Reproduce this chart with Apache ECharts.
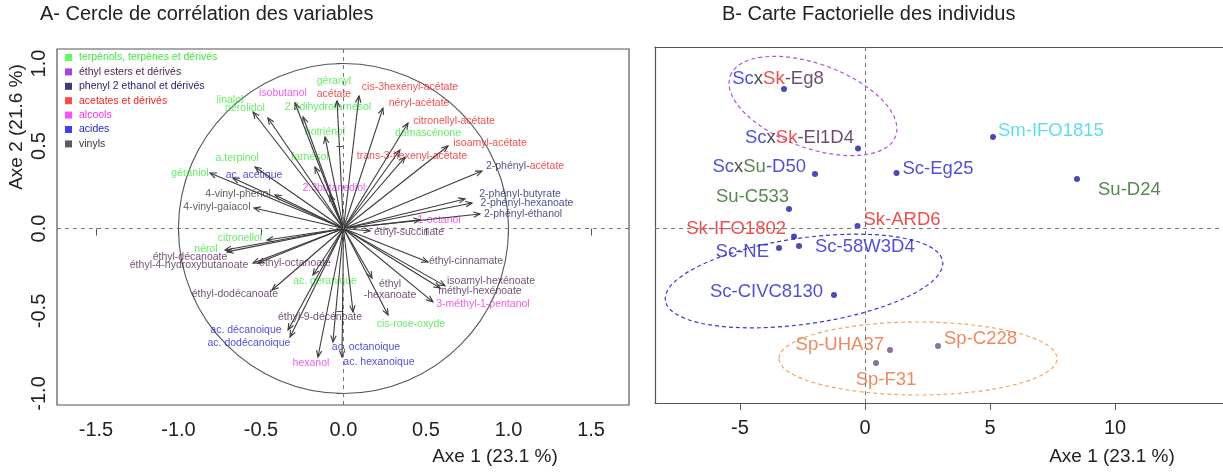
<!DOCTYPE html>
<html>
<head>
<meta charset="utf-8">
<script src="https://cdn.jsdelivr.net/npm/echarts@6.0.0/dist/echarts.min.js"></script>
<style>
html, body { margin: 0; padding: 0; background: #fff; }
#main { width: 1223px; height: 475px; }
</style>
</head>
<body>
<div id="main"></div>
<script>
var FONT = '"Liberation Sans", Arial, Helvetica, sans-serif';

// ---- A : cercle de corrélation ----
// groupes de variables (légende)
var groupNames = ['terpénols, terpènes et dérivés', 'éthyl esters et dérivés', 'phenyl 2 ethanol et dérivés',
    'acetates et dérivés', 'alcools', 'acides', 'vinyls'];

// variables : nom, groupe, extrémité de la flèche, position du libellé
var varNames = ['géraniol', 'a.terpinol', 'linalol', 'nérolidol', '2.3dihydrofarnésol', 'hotriénol', 'farnésol',
    'damascénone', 'citronellol', 'nérol', 'ac. géranique', 'cis-rose-oxyde',
    'éthyl-succinate', 'éthyl-cinnamate', 'isoamyl-hexénoate', 'méthyl-hexénoate', 'éthyl\n-hexanoate',
    'éthyl-9-décénoate', 'éthyl-dodécanoate', 'éthyl-octanoate', 'éthyl-4-hydroxybutanoate', 'éthyl-décanoate',
    '2-phényl-acétate', '2-phényl-butyrate', '2-phényl-hexanoate', '2-phényl-éthanol',
    'géranyl acétate', 'cis-3hexényl-acétate', 'néryl-acétate', 'citronellyl-acétate', 'isoamyl-acétate',
    'trans-3-hexenyl-acétate',
    'isobutanol', '2.3butanediol', '1-octanol', '3-méthyl-1-pentanol', 'hexanol',
    'ac. acétique', 'ac. décanoique', 'ac. dodécanoique', 'ac. octanoique', 'ac. hexanoique',
    '4-vinyl-phénol', '4-vinyl-gaiacol'];
var varGroup = [0, 0, 0, 0, 0, 0, 0, 0, 0, 0, 0, 0,
    1, 1, 1, 1, 1, 1, 1, 1, 1, 1,
    2, 2, 2, 2,
    3, 3, 3, 3, 3, 3,
    4, 4, 4, 4, 4,
    5, 5, 5, 5, 5,
    6, 6];
var varX = [-0.809, -0.536, -0.548, -0.458, -0.245, -0.112, -0.173, 0.342, -0.464, -0.718, -0.185, 0.270,
    0.161, 0.512, 0.615, 0.585, 0.173, 0.058, -0.433, -0.518, -0.548, -0.706,
    0.839, 0.736, 0.779, 0.827,
    -0.039, 0.094, 0.239, 0.391, 0.633, 0.373,
    -0.294, -0.082, 0.464, 0.542, -0.155,
    -0.670, -0.336, -0.324, -0.064, -0.009,
    -0.415, -0.542];
var varY = [0.336, 0.373, 0.706, 0.670, 0.676, 0.555, 0.373, 0.476, -0.070, -0.130, -0.282, -0.524,
    -0.015, -0.203, -0.348, -0.361, -0.300, -0.506, -0.373, -0.209, -0.209, -0.142,
    0.348, 0.179, 0.155, 0.088,
    0.773, 0.803, 0.730, 0.639, 0.500, 0.433,
    0.761, 0.203, 0.052, -0.445, -0.779,
    0.306, -0.615, -0.658, -0.688, -0.779,
    0.203, 0.124];
var labX = [-0.930, -0.645, -0.688, -0.597, -0.094, -0.112, -0.203, 0.512, -0.627, -0.833, -0.112, 0.409,
    0.397, 0.742, 0.894, 0.827, 0.282, -0.142, -0.658, -0.294, -0.936, -0.930,
    1.100, 1.070, 1.112, 1.088,
    -0.058, 0.403, 0.458, 0.670, 0.888, 0.415,
    -0.367, -0.058, 0.579, 0.845, -0.197,
    -0.542, -0.591, -0.573, 0.136, 0.215,
    -0.639, -0.767];
var labY = [0.336, 0.427, 0.779, 0.730, 0.736, 0.585, 0.433, 0.579, -0.058, -0.124, -0.318, -0.579,
    -0.021, -0.197, -0.318, -0.379, -0.373, -0.536, -0.397, -0.209, -0.221, -0.173,
    0.379, 0.209, 0.155, 0.088,
    0.852, 0.858, 0.761, 0.652, 0.518, 0.439,
    0.821, 0.245, 0.052, -0.458, -0.815,
    0.324, -0.615, -0.694, -0.718, -0.809,
    0.209, 0.130];

var xTicksA = [-1.5, -1.0, -0.5, 0, 0.5, 1.0, 1.5];
var yTicksA = [-1.0, -0.5, 0, 0.5, 1.0];

// ---- B : carte factorielle ----
var indNames = ['ScxSk-Eg8', 'ScxSk-El1D4', 'Sm-IFO1815', 'ScxSu-D50', 'Sc-Eg25', 'Su-D24', 'Su-C533',
    'Sk-IFO1802', 'Sk-ARD6', 'Sc-NE', 'Sc-58W3D4', 'Sc-CIVC8130', 'Sp-UHA37', 'Sp-C228', 'Sp-F31'];
var indX = [-3.24, -0.28, 5.12, -2.0, 1.26, 8.48, -3.04, -2.84, -0.30, -3.44, -2.64, -1.24, 1.0, 2.92, 0.44];
var indY = [5.56, 3.18, 3.64, 2.16, 2.2, 1.96, 0.76, -0.34, 0.08, -0.8, -0.72, -2.68, -4.88, -4.72, -5.4];

// ellipses de regroupement : centre, demi-axes, angle (degrés)
var ellCx = [-2.08, -2.44, 2.12];
var ellCy = [4.88, -2.12, -5.22];
var ellA = [3.52, 5.6, 5.56];
var ellB = [1.68, 1.72, 1.46];
var ellAngle = [-20, 8, 0];

var xTicksB = [-5, 0, 5, 10];

// ---- styles ----
var groupSquare = ['#33ff33', '#9a10d0', '#0a0a5a', '#ff1a1a', '#ff22ff', '#1010ee', '#333333'];
var groupText = ['#3fe83f', '#4a1f4f', '#1e1e66', '#ee2222', '#ee33ee', '#2222cc', '#333333'];
var ellColor = ['#b450d8', '#3a3ad0', '#f0a860'];

// libellés en plusieurs couleurs
var varRich = {
    'géranyl acétate': '{g|géranyl}\n{r|acétate}',
    '2-phényl-acétate': '{n|2-phényl-}{r|acétate}'
};
var indLabel = {
    'ScxSk-Eg8': { pos: 'top', off: [-6, 7], rich: '{b|Sc}{k|x}{r|Sk}{p|-Eg8}' },
    'ScxSk-El1D4': { pos: 'left', off: [4, -11], rich: '{b|Sc}{k|x}{r|Sk}{p|-El1D4}' },
    'Sm-IFO1815': { pos: 'right', off: [-3, -6], rich: '{c|Sm-IFO1815}' },
    'ScxSu-D50': { pos: 'left', off: [-1, -7], rich: '{b|Sc}{k|x}{g|Su}{b|-D50}' },
    'Sc-Eg25': { pos: 'right', off: [-2, -4], rich: '{b|Sc-Eg25}' },
    'Su-D24': { pos: 'right', off: [13, 11], rich: '{g|Su-D24}' },
    'Su-C533': { pos: 'left', off: [8, -12], rich: '{g|Su-C533}' },
    'Sk-IFO1802': { pos: 'left', off: [0, -8], rich: '{r|Sk-IFO1802}' },
    'Sk-ARD6': { pos: 'right', off: [-2, -6], rich: '{r|Sk-ARD6}' },
    'Sc-NE': { pos: 'left', off: [-2, 4], rich: '{b|Sc-NE}' },
    'Sc-58W3D4': { pos: 'right', off: [8, 1], rich: '{b|Sc-58W3D4}' },
    'Sc-CIVC8130': { pos: 'left', off: [-3, -3], rich: '{b|Sc-CIVC8130}' },
    'Sp-UHA37': { pos: 'left', off: [2, -5], rich: '{o|Sp-UHA37}' },
    'Sp-C228': { pos: 'right', off: [-2, -7], rich: '{o|Sp-C228}' },
    'Sp-F31': { pos: 'bottom', off: [10, -1], rich: '{o|Sp-F31}' }
};
var richB = {
    b: { color: '#2424c8' }, k: { color: '#222222' }, r: { color: '#e82020' }, p: { color: '#4a1c4a' },
    g: { color: '#2d6a22' }, c: { color: '#35d6e6' }, o: { color: '#ea6a3a' }
};

// flèche : segment depuis l'origine + tête ouverte
function renderArrow(params, api) {
    var p0 = api.coord([0, 0]);
    var p1 = api.coord([api.value(0), api.value(1)]);
    var ang = Math.atan2(p1[1] - p0[1], p1[0] - p0[0]);
    var len = 7, spread = Math.PI / 8;
    var a1 = [p1[0] - len * Math.cos(ang - spread), p1[1] - len * Math.sin(ang - spread)];
    var a2 = [p1[0] - len * Math.cos(ang + spread), p1[1] - len * Math.sin(ang + spread)];
    return {
        type: 'group',
        children: [
            { type: 'line', shape: { x1: p0[0], y1: p0[1], x2: p1[0], y2: p1[1] },
              style: { stroke: '#3a3a3a', lineWidth: 1.1 } },
            { type: 'polyline', shape: { points: [a1, p1, a2] },
              style: { stroke: '#3a3a3a', lineWidth: 1.1, fill: null } }
        ]
    };
}

// cercle de rayon 1
function renderCircle(params, api) {
    var c = api.coord([0, 0]);
    var s = api.size([1, 1]);
    return {
        type: 'ellipse',
        shape: { cx: c[0], cy: c[1], rx: s[0], ry: s[1] },
        style: { fill: null, stroke: '#555', lineWidth: 1.1 }
    };
}

function renderEllipse(params, api) {
    var c = api.coord([api.value(0), api.value(1)]);
    var rx = api.size([api.value(2), 0])[0];
    var ry = api.size([0, api.value(3)])[1];
    return {
        type: 'ellipse',
        x: c[0], y: c[1],
        rotation: api.value(4) * Math.PI / 180,
        shape: { cx: 0, cy: 0, rx: rx, ry: ry },
        style: { fill: null, stroke: ellColor[params.dataIndex], lineWidth: 1.2, lineDash: [4, 3] }
    };
}

var zeroLines = {
    silent: true,
    symbol: ['none', 'none'],
    label: { show: false },
    lineStyle: { color: '#777', width: 1, type: [4, 4] },
    data: [{ xAxis: 0 }, { yAxis: 0 }]
};

var series = [];

series.push({
    type: 'custom', name: 'cercle', xAxisIndex: 0, yAxisIndex: 0, silent: true,
    renderItem: renderCircle, data: [[0, 0]], markLine: zeroLines, z: 1
});

series.push({
    type: 'custom', name: 'fleches', xAxisIndex: 0, yAxisIndex: 0, silent: true,
    renderItem: renderArrow,
    data: varX.map(function (x, i) { return [x, varY[i]]; }),
    z: 3
});

// un groupe = une série de libellés (pour la légende)
groupNames.forEach(function (gName, g) {
    var data = [];
    varNames.forEach(function (n, i) {
        if (varGroup[i] == g) {
            data.push({ name: n, value: [labX[i], labY[i]] });
        }
    });
    series.push({
        type: 'scatter', name: gName, xAxisIndex: 0, yAxisIndex: 0, silent: true,
        symbolSize: 0,
        itemStyle: { color: groupSquare[g] },
        label: {
            show: true, position: 'inside', color: groupText[g],
            fontSize: 10.5, fontFamily: FONT, lineHeight: 11,
            formatter: function (p) { return varRich[p.name] || p.name; },
            rich: {
                g: { color: '#3fe83f', fontSize: 10.5, fontFamily: FONT, lineHeight: 13 },
                r: { color: '#ee2222', fontSize: 10.5, fontFamily: FONT, lineHeight: 13 },
                n: { color: '#1e1e66', fontSize: 10.5, fontFamily: FONT }
            }
        },
        data: data,
        z: 2
    });
});

series.push({
    type: 'custom', name: 'ellipses', xAxisIndex: 1, yAxisIndex: 1, silent: true,
    renderItem: renderEllipse,
    data: ellCx.map(function (x, i) { return [x, ellCy[i], ellA[i], ellB[i], ellAngle[i]]; }),
    markLine: zeroLines, z: 1
});

series.push({
    type: 'scatter', name: 'individus', xAxisIndex: 1, yAxisIndex: 1, silent: true,
    symbolSize: 6,
    data: indNames.map(function (n, i) {
        var lb = indLabel[n];
        return {
            name: n, value: [indX[i], indY[i]],
            itemStyle: { color: n.indexOf('Sp-') == 0 ? '#6b4c8c' : '#1c1ca6' },
            label: { position: lb.pos, offset: lb.off }
        };
    }),
    label: {
        show: true, fontSize: 18.5, fontFamily: FONT, distance: 5,
        formatter: function (p) { return indLabel[p.name].rich; },
        rich: richB
    },
    z: 3
});

var boxLine = { show: true, onZero: false, lineStyle: { color: '#555', width: 1.2 } };

var option = {
    animation: false,
    backgroundColor: '#fff',
    textStyle: { fontFamily: FONT },
    title: [
        { text: 'A- Cercle de corrélation des variables', left: 40, top: 4, padding: 0,
          textStyle: { fontSize: 20, fontWeight: 'normal', color: '#222', fontFamily: FONT } },
        { text: 'B- Carte Factorielle des individus', left: 722, top: 4, padding: 0,
          textStyle: { fontSize: 20, fontWeight: 'normal', color: '#222', fontFamily: FONT } }
    ],
    legend: {
        data: groupNames.map(function (n, g) { return { name: n, textStyle: { color: groupText[g] } }; }),
        orient: 'vertical', left: 65, top: 52, padding: 0,
        itemWidth: 7, itemHeight: 7, itemGap: 3.4, icon: 'rect', selectedMode: false,
        textStyle: { fontSize: 10.5, fontFamily: FONT, lineHeight: 11, padding: [0, 0, 0, 2] }
    },
    grid: [
        { left: 57, top: 49, width: 572, height: 356, show: true, borderColor: '#555', borderWidth: 1.2 },
        { left: 655, top: 47, right: 0, height: 356, show: false }
    ],
    xAxis: [
        {
            gridIndex: 0, type: 'value', min: -1.736, max: 1.73,
            axisLine: { show: false }, splitLine: { show: false },
            axisTick: { show: true, length: 7, customValues: xTicksA, lineStyle: { color: '#555' } },
            axisLabel: { customValues: xTicksA, fontSize: 20, color: '#222', margin: 15,
                formatter: function (v) { return v.toFixed(1); } }
        },
        {
            gridIndex: 1, type: 'value', min: -8.4, max: 14.32,
            axisLine: boxLine, splitLine: { show: false },
            axisTick: { show: true, length: 7, customValues: xTicksB, lineStyle: { color: '#555' } },
            axisLabel: { customValues: xTicksB, fontSize: 20, color: '#222', margin: 15,
                formatter: function (v) { return String(v); } }
        },
        {
            gridIndex: 1, type: 'value', min: -8.4, max: 14.32, position: 'top',
            axisLine: boxLine, splitLine: { show: false },
            axisTick: { show: false }, axisLabel: { show: false }
        }
    ],
    yAxis: [
        {
            gridIndex: 0, type: 'value', min: -1.07, max: 1.088,
            axisLine: { show: false }, splitLine: { show: false },
            axisTick: { show: true, length: 7, customValues: yTicksA, lineStyle: { color: '#555' } },
            axisLabel: { customValues: yTicksA, fontSize: 20, color: '#222', margin: 8, rotate: 90,
                formatter: function (v) { return v.toFixed(1); } }
        },
        {
            gridIndex: 1, type: 'value', min: -7.0, max: 7.24,
            axisLine: boxLine, splitLine: { show: false },
            axisTick: { show: false }, axisLabel: { show: false }
        }
    ],
    graphic: [
        { type: 'text', x: 17, y: 127, rotation: Math.PI / 2,
          style: { text: 'Axe 2 (21.6 %)', fill: '#222', font: '19px ' + FONT, textAlign: 'center', textVerticalAlign: 'middle' } },
        { type: 'text', x: 495, y: 457,
          style: { text: 'Axe 1 (23.1 %)', fill: '#222', font: '19px ' + FONT, textAlign: 'center', textVerticalAlign: 'middle' } },
        { type: 'text', x: 1112, y: 457,
          style: { text: 'Axe 1 (23.1 %)', fill: '#222', font: '19px ' + FONT, textAlign: 'center', textVerticalAlign: 'middle' } }
    ],
    series: series
};

var myChart = echarts.init(document.getElementById('main'));
myChart.setOption(option);
</script>
</body>
</html>
